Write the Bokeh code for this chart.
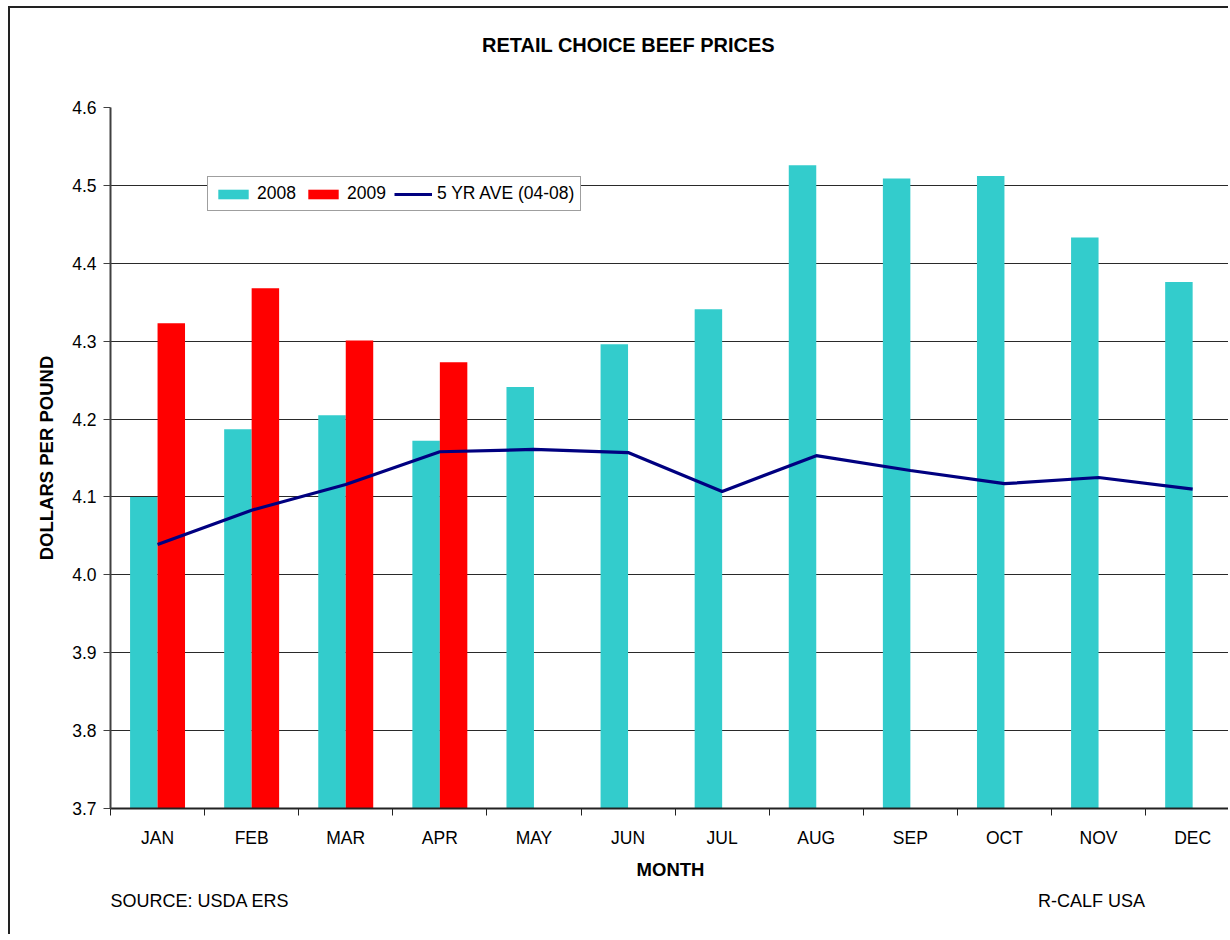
from bokeh.plotting import figure
from bokeh.models import (ColumnDataSource, Range1d, FixedTicker, Legend, LinearAxis,
                          PrintfTickFormatter)
from bokeh.transform import dodge
from bokeh.embed import file_html
from bokeh.resources import INLINE

# ---------------- data ----------------
months = ["JAN", "FEB", "MAR", "APR", "MAY", "JUN", "JUL", "AUG", "SEP", "OCT", "NOV", "DEC"]
prices_2008 = [4.100, 4.187, 4.205, 4.172, 4.241, 4.296, 4.341, 4.526, 4.509, 4.512, 4.433, 4.376]
prices_2009 = [4.323, 4.368, 4.301, 4.273]
avg_5yr = [4.039, 4.083, 4.116, 4.158, 4.161, 4.157, 4.107, 4.153, 4.134, 4.117, 4.125, 4.110]
y_ticks = [3.7, 3.8, 3.9, 4.0, 4.1, 4.2, 4.3, 4.4, 4.5, 4.6]

title_text = "RETAIL CHOICE BEEF PRICES"
x_title = "MONTH"
y_title = "DOLLARS PER POUND"
source_text = "SOURCE:  USDA ERS"
credit_text = "R-CALF USA"

FONT = "Liberation Sans"
CYAN = "#33CCCC"
RED = "#FF0000"
NAVY = "#000080"

# ---------------- layout ----------------
W, H = 1220, 928
ML, MT, MB = 100, 99, 128
frame_w = W - ML
px_per_cat = 94.1

xpos = [i + 1 for i in range(len(months))]
src08 = ColumnDataSource(dict(x=xpos, y=prices_2008))
src09 = ColumnDataSource(dict(x=xpos[:len(prices_2009)], y=prices_2009))
srcav = ColumnDataSource(dict(x=xpos, y=avg_5yr))

p = figure(width=W, height=H, title=None,
           x_range=Range1d(0.5, 0.5 + frame_w / px_per_cat),
           y_range=Range1d(y_ticks[0], y_ticks[-1]),
           output_backend="svg", toolbar_location=None,
           min_border_left=ML, min_border_top=MT, min_border_bottom=MB,
           min_border_right=0)
p.margin = (6, 0, 0, 8)
p.styles = {"border-left": "2px solid #222222", "border-top": "2px solid #222222"}
p.outline_line_color = None
p.background_fill_color = "white"
p.border_fill_color = "white"

bw = 0.292
r08 = p.vbar(x=dodge("x", -bw / 2, range=p.x_range), top="y", bottom=y_ticks[0], width=bw,
             source=src08, fill_color=CYAN, line_color=None)
r09 = p.vbar(x=dodge("x", bw / 2, range=p.x_range), top="y", bottom=y_ticks[0], width=bw,
             source=src09, fill_color=RED, line_color=None)
rav = p.line(x="x", y="y", source=srcav, line_color=NAVY, line_width=3.2)

# grid
p.xgrid.visible = False
p.ygrid.ticker = FixedTicker(ticks=y_ticks)
p.ygrid.grid_line_color = "#2a2a2a"
p.ygrid.grid_line_width = 1

# y axis
yax = p.yaxis[0]
yax.ticker = FixedTicker(ticks=y_ticks)
yax.formatter = PrintfTickFormatter(format="%.1f")
yax.axis_line_color = "#404040"
yax.axis_line_width = 2
yax.major_tick_line_color = "#404040"
yax.major_tick_out = 7
yax.major_tick_in = 0
yax.minor_tick_line_color = None
yax.major_label_text_font = FONT
yax.major_label_text_font_size = "17.5px"
yax.major_label_text_color = "black"
yax.major_label_standoff = 7
yax.axis_label = y_title
yax.axis_label_text_font = FONT
yax.axis_label_text_font_size = "18.5px"
yax.axis_label_text_font_style = "bold"
yax.axis_label_text_color = "black"
yax.axis_label_standoff = 12

# x axis
xax = p.xaxis[0]
xax.ticker = FixedTicker(ticks=xpos, minor_ticks=[x - 0.5 for x in xpos] + [xpos[-1] + 0.5])
xax.major_label_overrides = {x: m for x, m in zip(xpos, months)}
xax.axis_line_color = "#222222"
xax.axis_line_width = 2
xax.major_tick_out = 0
xax.major_tick_in = 0
xax.major_tick_line_color = None
xax.minor_tick_line_color = "#222222"
xax.minor_tick_out = 7
xax.minor_tick_in = 0
xax.major_label_text_font = FONT
xax.major_label_text_font_size = "17.5px"
xax.major_label_text_color = "black"
xax.major_label_standoff = 12
xax.axis_label = x_title
xax.axis_label_text_font = FONT
xax.axis_label_text_font_size = "18.5px"
xax.axis_label_text_font_style = "bold"
xax.axis_label_text_color = "black"
xax.axis_label_standoff = 8

# title and footer texts as invisible extra axes on a pixel-based range
p.extra_x_ranges["page"] = Range1d(0, frame_w)


def text_axis(positions, texts, size, style, standoff):
    ax = LinearAxis(x_range_name="page", ticker=FixedTicker(ticks=positions),
                    major_label_overrides=dict(zip(positions, texts)))
    ax.axis_line_color = None
    ax.major_tick_line_color = None
    ax.minor_tick_line_color = None
    ax.major_tick_out = 0
    ax.major_tick_in = 0
    ax.major_label_standoff = standoff
    ax.major_label_text_font = FONT
    ax.major_label_text_font_size = size
    ax.major_label_text_font_style = style
    ax.major_label_text_color = "black"
    return ax


p.add_layout(text_axis([518], [title_text], "20px", "bold", 52), "above")
p.add_layout(text_axis([92, 981], [source_text, credit_text], "18px", "normal", 8), "below")

# legend
legend = Legend(items=[("2008", [r08]), ("2009", [r09]), ("5 YR AVE (04-08)", [rav])],
                orientation="horizontal", location=(97, 597))
legend.label_text_font = FONT
legend.label_text_font_size = "17.5px"
legend.label_text_color = "black"
legend.glyph_width = 38
legend.glyph_height = 12
legend.label_height = 18
legend.label_standoff = 5
legend.spacing = 8
legend.padding = 6
legend.margin = 0
legend.border_line_color = "#404040"
legend.border_line_width = 1
legend.background_fill_color = "white"
legend.background_fill_alpha = 1
p.add_layout(legend, "center")

open("out.html", "w").write(file_html(p, INLINE))
